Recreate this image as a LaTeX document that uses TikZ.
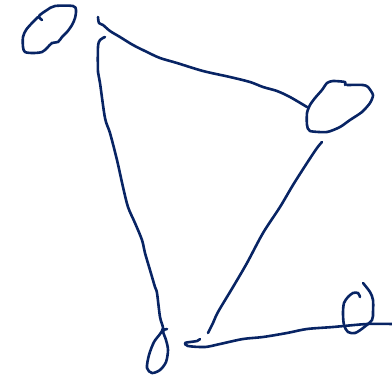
\documentclass[tikz,border=0pt]{standalone}
\usepackage{xcolor}
\usepackage{tikz}
\usetikzlibrary{
	arrows.meta,
	calc
}
\definecolor{inkblue}{RGB}{8,36,100}
\tikzset{
	ink/.style={draw=inkblue, line width=2.6pt, line cap=round, line join=round}
}

\begin{document}
\begin{tikzpicture}[x=1pt, y=-1pt]
		\useasboundingbox (0,0) rectangle (392,376);
		
		% 左上角
		\draw[ink] plot[smooth, tension=0.5] coordinates {(42,20) (39,16) (47,10) (55,6) (73,6) (76,10) (75,18) (72,25) (67,32) (62,37) (58,42) (52,43) (47,48) (42,52) (33,53) (25,52) (23,47) (23,37) (26,30) (32,23) (38,17)};
		
		% 上边
		\draw[ink] plot[smooth, tension=0.5] coordinates {(98,17) (99,23) (103,25) (110,31) (120,37) (133,45) (147,52) (160,58) (177,63) (203,71) (230,77) (250,82) (263,87) (277,91) (290,97) (307,107)};
		
		% 左边
		\draw[ink] plot[smooth, tension=0.5] coordinates {(105,37) (100,40) (98,47) (98,72) (100,83) (105,118) (110,133) (117,160) (123,187) (128,207) (135,223) (142,240) (145,253) (150,270) (155,287) (157,293) (160,317) (163,328) (160,334) (154,342) (149,355) (147,368) (152,373) (160,370) (166,362) (168,350) (166,340) (163,331) (167,329)};
		
		% 右上角
		\draw[ink] plot[smooth, tension=0.4] coordinates {(345,85) (345,82) (333,81) (327,83) (322,90) (315,98) (310,105) (307,113) (307,125) (310,131) (327,132) (340,127) (350,120) (362,112) (370,103) (373,95) (368,87) (363,85) (347,85)};
		
		% 斜边
		\draw[ink] plot[smooth, tension=0.5] coordinates {(322,142) (317,148) (307,163) (293,185) (280,207) (263,233) (247,263) (233,287) (218,312) (213,323) (208,333)};
		
		% 下边
		\draw[ink] plot[smooth, tension=0.5] coordinates {(200,339) (197,341) (190,342) (185,343) (188,346) (205,347) (220,344) (243,339) (263,337) (287,333) (307,329) (333,327) (367,324) (392,324)};
		
		% 右下角
		\draw[ink] plot[smooth, tension=0.5] coordinates {(363,283) (370,292) (373,300) (373,312) (372,320) (363,328) (355,333) (348,332) (344,325) (343,313) (344,303) (348,297) (353,293) (358,293) (360,297)};
	\end{tikzpicture}
\end{document}
